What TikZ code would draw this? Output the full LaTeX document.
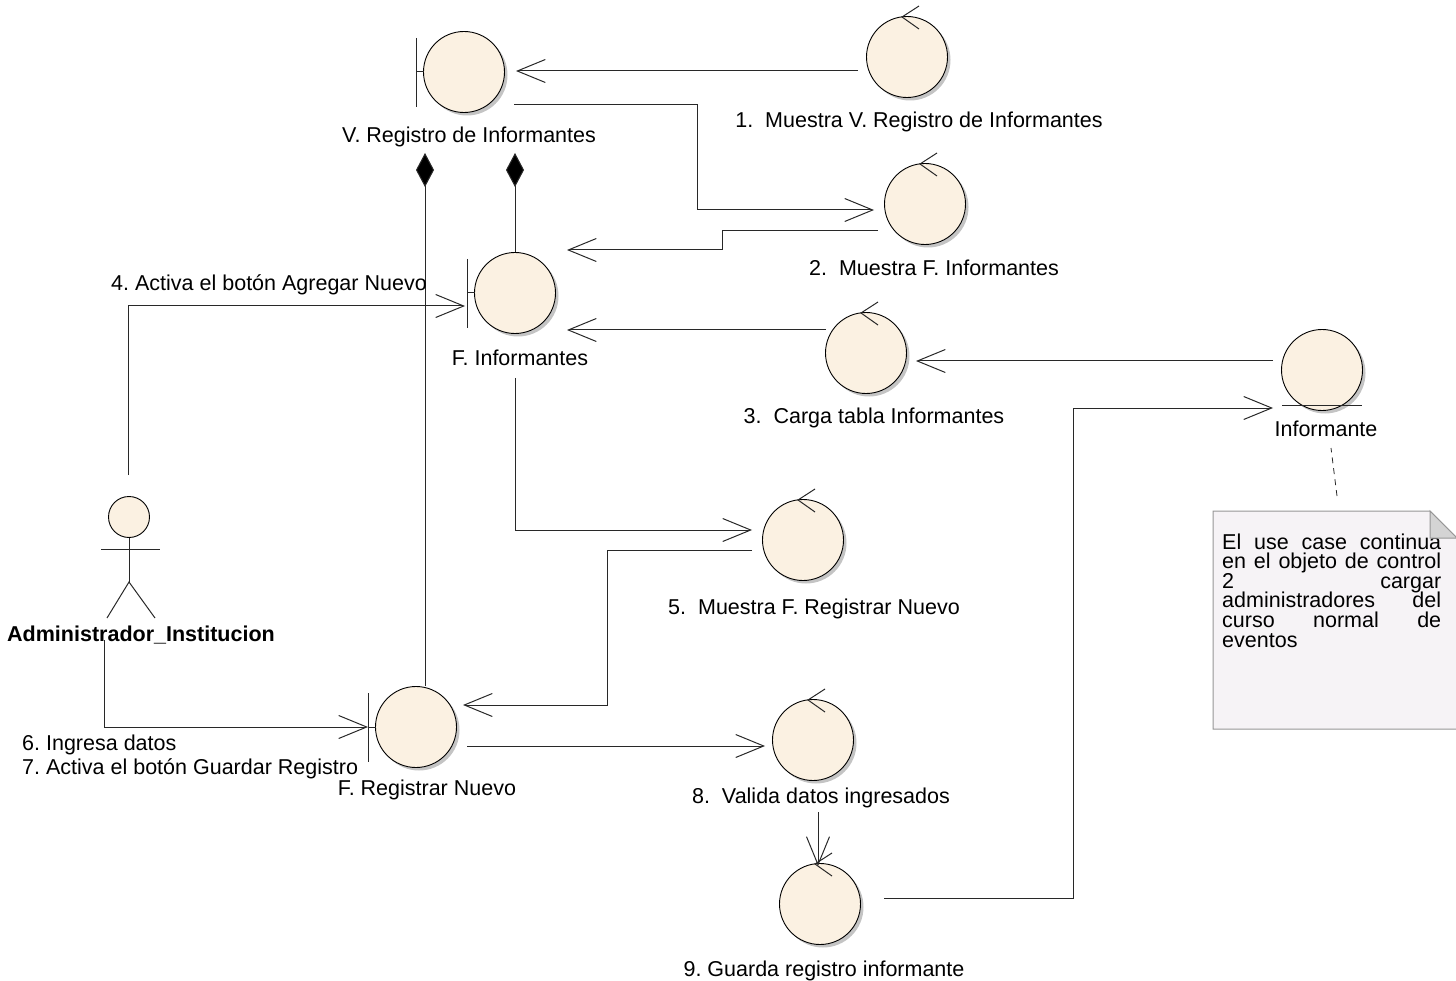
\documentclass[tikz,border=0pt]{standalone}
\usepackage{fontspec}
\setmainfont{Liberation Sans}
\usetikzlibrary{arrows.meta,calc,shadows}
\definecolor{objfill}{RGB}{251,241,226}
\definecolor{objshadow}{RGB}{196,196,196}
\definecolor{notefill}{RGB}{246,243,246}
\definecolor{noteedge}{RGB}{150,150,150}
\definecolor{notefold}{RGB}{212,212,212}
\definecolor{ink}{RGB}{40,40,40}
\frenchspacing
\begin{document}
\begin{tikzpicture}[x=1pt,y=-1pt,
  every node/.style={font=\fontsize{21.5}{25.8}\selectfont},
  obj/.style={circle,draw=black,line width=0.9pt,fill=objfill,minimum size=81pt,inner sep=0pt,
    drop shadow={shadow xshift=3pt,shadow yshift=-3pt,fill=objshadow,opacity=1}},
  deco/.style={draw=ink,line width=1pt},
  conn/.style={draw=ink,line width=1pt,-{Straight Barb[length=28pt,width=23pt,line width=1pt]}},
  comp/.style={draw=ink,line width=1pt,{Diamond[length=34pt,width=18pt,fill=black]}-},
  lbl/.style={anchor=base,inner sep=0pt,text=black},
  lbll/.style={anchor=base west,inner sep=0pt,text=black}]
\useasboundingbox (0,0) rectangle (1456,981);

% control marks: the small arrowhead on top of each control circle
\newcommand{\ctrlmark}[1]{\draw[deco] ($(#1)+(12,-51)$) -- ($(#1)+(-5,-40)$) -- ($(#1)+(12,-28)$);}
% boundary marks: vertical bar with a short tick to the circle
\newcommand{\bndmark}[1]{\draw[deco] ($(#1)+(-48,-34)$) -- ($(#1)+(-48,35)$);
  \draw[deco] ($(#1)+(-48,0)$) -- ($(#1)+(-40,0)$);}

% ---------- boundary objects ----------
\node[obj] (bV) at (464,72) {};
\bndmark{bV}
\node[obj] (bF) at (515,293) {};
\bndmark{bF}
\node[obj] (bR) at (416,727) {};
\bndmark{bR}

% ---------- control objects ----------
\node[obj] (c1) at (907,57) {};
\node[obj] (c2) at (925,204) {};
\node[obj] (c3) at (866,353) {};
\node[obj] (c5) at (803,540) {};
\node[obj] (c8) at (813,740) {};
\node[obj] (c9) at (820,904) {};
\foreach \c in {c1,c2,c3,c5,c8,c9} {\ctrlmark{\c}}

% ---------- entity ----------
\node[obj] (ent) at (1322,370) {};
\draw[deco] ($(ent)+(-40,35)$) -- ($(ent)+(40,35)$);

% ---------- actor ----------
\node[circle,draw=black,line width=0.9pt,fill=objfill,minimum size=41pt,inner sep=0pt] (act) at (129,517) {};
\draw[deco] (act.south) -- ($(act)+(0,65)$);
\draw[deco] ($(act)+(-28,32)$) -- ($(act)+(31,32)$);
\draw[deco] ($(act)+(-22,101)$) -- ($(act)+(0,65)$) -- ($(act)+(26,101)$);

% ---------- note ----------
\coordinate (nt) at (1337,511);
\path[fill=notefill,draw=noteedge,line width=1pt]
  (1213,511) -- (1430,511) -- (1457,538) -- (1457,729) -- (1213,729) -- cycle;
\node[anchor=base west,inner sep=0pt] (notetext) at (1222,549) {%
  \vtop{\baselineskip=19.6pt\lineskiplimit=-10pt
  \hbox to 219pt{El\hfill use\hfill case\hfill continua}
  \hbox to 219pt{en\hfill el\hfill objeto\hfill de\hfill control}
  \hbox to 219pt{2\hfill cargar}
  \hbox to 219pt{administradores\hfill del}
  \hbox to 219pt{curso\hfill normal\hfill de}
  \hbox to 219pt{eventos\hfill}}};
\path[fill=notefold,draw=noteedge,line width=1pt] (1430,511) -- (1430,538) -- (1457,538) -- cycle;
\draw[draw=ink,line width=0.8pt,dash pattern=on 6pt off 5pt] ($(nt)+(0,-15)$) -- ($(ent)+(9,78)$);

% ---------- compositions ----------
\draw[comp] ($(bV)+(-39,81)$) -- ($(bR)+(9,-41)$);
\draw[comp] ($(bV)+(51,81)$) -- (bF.north);

% ---------- messages ----------
\draw[conn] ($(c1)+(-49,14)$) -- ($(bV)+(52,-1)$);
\draw[conn] ($(bV)+(50,33)$) -| ($(c2)+(-228,6)$) -- ($(c2)+(-51,6)$);
\draw[conn] ($(c2)+(-47,27)$) -| ($(bF)+(207,-43)$) -- ($(bF)+(52,-43)$);
\draw[conn] ($(act)+(-1,-42)$) |- ($(bF)+(-50,13)$);
\draw[conn] ($(c3)+(-40,-23)$) -- ($(bF)+(52,37)$);
\draw[conn] ($(ent)+(-49,-9)$) -- ($(c3)+(50,8)$);
\draw[conn] ($(bF)+(0,85)$) |- ($(c5)+(-51,-10)$);
\draw[conn] ($(c5)+(-51,10)$) -| ($(bR)+(191,-22)$) -- ($(bR)+(47,-22)$);
\draw[conn] ($(act)+(-25,123)$) |- ($(bR)+(-48,0)$);
\draw[conn] ($(bR)+(51,19)$) -- ($(c8)+(-48,6)$);
\draw[conn] ($(c8)+(5,72)$) -- ($(c9)+(-2,-38)$);
\draw[conn] ($(c9)+(64,-6)$) -| ($(ent)+(-249,38)$) -- ($(ent)+(-49,38)$);

% ---------- labels ----------
\node[lbl] (lbV) at (469,143) {V. Registro de Informantes};
\node[lbl] (lbF) at (520,366) {F. Informantes};
\node[lbl] (lbR) at (427,795) {F. Registrar Nuevo};
\node[lbl] (lc1) at (919,128) {1.\ \ Muestra V. Registro de Informantes};
\node[lbl] (lc2) at (934,276) {2.\ \ Muestra F. Informantes};
\node[lbl] (lc3) at (874,423) {3.\ \ Carga tabla Informantes};
\node[lbl] (lc5) at (814,614) {5.\ \ Muestra F. Registrar Nuevo};
\node[lbl] (lc8) at (821,803) {8.\ \ Valida datos ingresados};
\node[lbl] (lc9) at (824,976) {9. Guarda registro informante};
\node[lbl] (lent) at (1326,436) {Informante};
\node[lbl,font=\fontsize{21.5}{25.8}\selectfont\bfseries] (lact) at (141,641) {Administrador\_Institucion};
\node[lbl] (m4) at (269,291) {4. Activa el botón Agregar Nuevo};
\node[lbll] (m6) at (22,750) {6. Ingresa datos};
\node[lbll] (m7) at (22,774) {7. Activa el botón Guardar Registro};
\end{tikzpicture}
\end{document}
